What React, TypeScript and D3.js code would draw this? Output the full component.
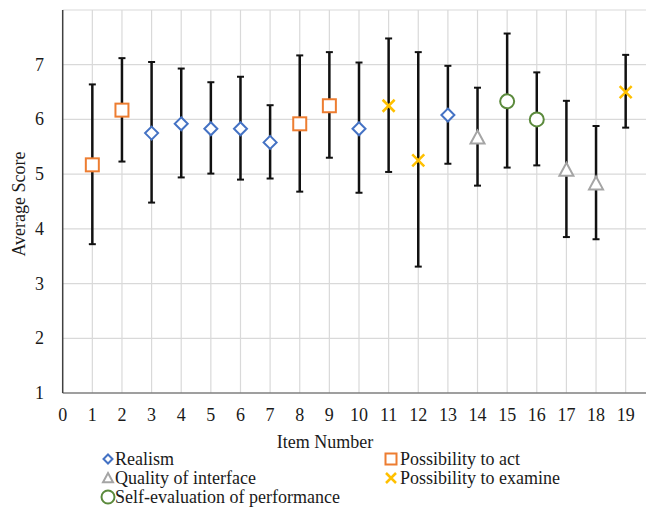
import React from "react";
import * as d3 from "d3";

const items = [1, 2, 3, 4, 5, 6, 7, 8, 9, 10, 11, 12, 13, 14, 15, 16, 17, 18, 19];
const means = [5.17, 6.17, 5.75, 5.92, 5.83, 5.83, 5.58, 5.92, 6.25, 5.83, 6.25, 5.25, 6.08, 5.67, 6.33, 6.0, 5.08, 4.83, 6.5];
const upper = [6.64, 7.12, 7.05, 6.93, 6.68, 6.78, 6.26, 7.17, 7.23, 7.04, 7.48, 7.23, 6.98, 6.58, 7.57, 6.86, 6.34, 5.88, 7.18];
const lower = [3.72, 5.23, 4.48, 4.94, 5.01, 4.9, 4.92, 4.68, 5.3, 4.66, 5.04, 3.31, 5.19, 4.79, 5.12, 5.16, 3.85, 3.81, 5.85];
const groups = ["act", "act", "real", "real", "real", "real", "real", "act", "act", "real", "exam", "exam", "real", "intf", "self", "self", "intf", "intf", "exam"];

const seriesKeys = ["real", "act", "intf", "exam", "self"];
const seriesNames = ["Realism", "Possibility to act", "Quality of interface", "Possibility to examine", "Self-evaluation of performance"];
const seriesColors = ["#4472C4", "#ED7D31", "#A5A5A5", "#FFC000", "#5B8A3C"];

const xTicks = d3.range(0, 20);
const yTicks = [1, 2, 3, 4, 5, 6, 7];
const yGrid = [2, 3, 4, 5, 6, 7, 8];

const FONT = "'Liberation Serif', 'Times New Roman', serif";

function Marker({ kind, x, y, s, color }: { kind: string; x: number; y: number; s: number; color: string }) {
  const sw = 2;
  if (kind === "real") {
    const h = s / 2;
    return <path d={`M${x},${y - h}L${x + h},${y}L${x},${y + h}L${x - h},${y}Z`} fill="#fff" stroke={color} strokeWidth={sw} />;
  }
  if (kind === "act") {
    const h = s / 2;
    return <rect x={x - h} y={y - h} width={s} height={s} fill="#fff" stroke={color} strokeWidth={sw} />;
  }
  if (kind === "intf") {
    const h = s / 2;
    return <path d={`M${x},${y - h}L${x + h},${y + h * 0.85}L${x - h},${y + h * 0.85}Z`} fill="#fff" stroke={color} strokeWidth={sw} />;
  }
  if (kind === "exam") {
    const h = s / 2;
    return <path d={`M${x - h},${y - h}L${x + h},${y + h}M${x + h},${y - h}L${x - h},${y + h}`} fill="none" stroke={color} strokeWidth={sw + 0.5} />;
  }
  return <circle cx={x} cy={y} r={s / 2} fill="#fff" stroke={color} strokeWidth={sw} />;
}

export default function App() {
  const W = 646, H = 509;
  const x = d3.scaleLinear().domain([0, 20]).range([62.7, 62.7 + 20 * 29.63]);
  const y = d3.scaleLinear().domain([1, 8]).range([393, 10]);
  const markerSize: Record<string, number> = { real: 13, act: 13, intf: 14, exam: 12, self: 14 };
  const legendSize: Record<string, number> = { real: 9, act: 11, intf: 10, exam: 10, self: 13 };
  const legendPos = [
    [108, 115, 459],
    [391, 400, 459],
    [108, 115, 478],
    [391, 400, 478],
    [108, 115, 497],
  ];
  return (
    <svg width={W} height={H} style={{ position: "absolute", left: 0, top: 0, background: "#fff" }} fontFamily={FONT}>
      <rect width={W} height={H} fill="#fff" />
      {/* grid */}
      {yGrid.map((v) => (
        <line key={"h" + v} x1={x(0)} x2={W} y1={y(v)} y2={y(v)} stroke="#D9D9D9" strokeWidth={1.2} />
      ))}
      {xTicks.slice(1).map((v) => (
        <line key={"v" + v} x1={x(v)} x2={x(v)} y1={y(8)} y2={y(1)} stroke="#D9D9D9" strokeWidth={1.2} />
      ))}
      {/* axes */}
      <line x1={x(0)} x2={W} y1={y(1)} y2={y(1)} stroke="#7F7F7F" strokeWidth={1.5} />
      <line x1={x(0)} x2={x(0)} y1={y(8)} y2={y(1)} stroke="#404040" strokeWidth={1.5} />
      {/* tick labels */}
      {yTicks.map((v) => (
        <text key={"yt" + v} x={44} y={y(v) + 6} textAnchor="end" fontSize={18} fill="#1a1a1a">{v}</text>
      ))}
      {xTicks.map((v) => (
        <text key={"xt" + v} x={x(v)} y={421} textAnchor="middle" fontSize={18} fill="#1a1a1a">{v}</text>
      ))}
      {/* axis titles */}
      <text x={25} y={204} transform="rotate(-90 25 204)" textAnchor="middle" fontSize={18} fill="#1a1a1a">Average Score</text>
      <text x={325} y={448} textAnchor="middle" fontSize={18} fill="#1a1a1a">Item Number</text>
      {/* error bars */}
      {items.map((it, i) => (
        <g key={"e" + it} stroke="#111" strokeWidth={2.5}>
          <line x1={x(it)} x2={x(it)} y1={y(upper[i])} y2={y(lower[i])} />
          <line x1={x(it) - 3.5} x2={x(it) + 3.5} y1={y(upper[i])} y2={y(upper[i])} strokeWidth={2} />
          <line x1={x(it) - 3.5} x2={x(it) + 3.5} y1={y(lower[i])} y2={y(lower[i])} strokeWidth={2} />
        </g>
      ))}
      {/* markers */}
      {items.map((it, i) => {
        const k = groups[i];
        const c = seriesColors[seriesKeys.indexOf(k)];
        return <Marker key={"m" + it} kind={k} x={x(it)} y={y(means[i])} s={markerSize[k]} color={c} />;
      })}
      {/* legend */}
      {seriesKeys.map((k, i) => {
        const [mx, tx, ly] = legendPos[i];
        return (
          <g key={"l" + k}>
            <Marker kind={k} x={mx} y={ly} s={legendSize[k]} color={seriesColors[i]} />
            <text x={tx} y={ly + 6} fontSize={18} fill="#1a1a1a">{seriesNames[i]}</text>
          </g>
        );
      })}
    </svg>
  );
}
